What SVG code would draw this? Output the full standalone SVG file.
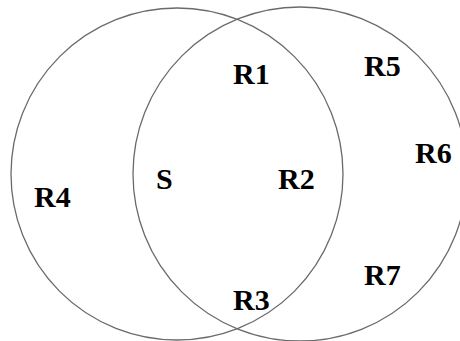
<svg xmlns="http://www.w3.org/2000/svg" width="460" height="341" viewBox="0 0 460 341">
<style>
.c{fill:none;stroke:#6a6a6a;stroke-width:1.3}
.t{font-family:"Liberation Serif","Times New Roman",serif;font-weight:bold;font-size:30px;fill:#000}
</style>
<rect width="460" height="341" fill="#fff"/>
<g id="circleS"><circle class="c" cx="177" cy="174" r="166"/></g>
<g id="circleR"><circle class="c" cx="300" cy="174" r="167"/></g>
<g id="labels">
<text class="t" x="233" y="84">R1</text>
<text class="t" x="278" y="189">R2</text>
<text class="t" x="233" y="310">R3</text>
<text class="t" x="34" y="207">R4</text>
<text class="t" x="364" y="76">R5</text>
<text class="t" x="415" y="163">R6</text>
<text class="t" x="364" y="285">R7</text>
<text class="t" x="156" y="189">S</text>
</g>
</svg>
